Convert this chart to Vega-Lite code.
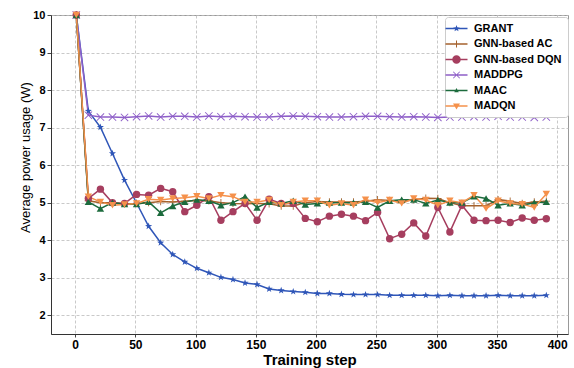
{
  "$schema": "https://vega.github.io/schema/vega-lite/v6.json",
  "width": 517,
  "height": 319,
  "autosize": {"type": "none"},
  "padding": {"left": 51, "top": 15, "right": 6, "bottom": 34},
  "background": "white",
  "config": {
    "font": "Liberation Sans",
    "view": {"stroke": "#999999", "strokeWidth": 1},
    "legend": {
      "title": null, "orient": "none", "legendX": 394, "legendY": 2,
      "labelFont": "Liberation Sans", "labelFontSize": 11, "labelFontWeight": "bold", "labelColor": "black",
      "symbolSize": 100, "labelOffset": 12, "padding": 6, "rowPadding": 3.5,
      "fillColor": "white", "strokeColor": "#cccccc", "cornerRadius": 3,
      "symbolStrokeWidth": 0, "symbolStrokeColor": "transparent", "symbolOpacity": 1
    }
  },
  "resolve": {
    "scale": {"shape": "independent"},
    "legend": {"color": "independent", "shape": "independent"}
  },
  "data": {
    "values": [
      {"step": 1, "GRANT": 10, "GNN-based AC": 10, "GNN-based DQN": 10, "MADDPG": 10, "MAAC": 10, "MADQN": 10},
      {"step": 11, "GRANT": 7.44, "GNN-based AC": 5.05, "GNN-based DQN": 5.11, "MADDPG": 7.33, "MAAC": 5.02, "MADQN": 5.16},
      {"step": 21, "GRANT": 7.01, "GNN-based AC": 5.0, "GNN-based DQN": 5.36, "MADDPG": 7.28, "MAAC": 4.84, "MADQN": 5.02},
      {"step": 31, "GRANT": 6.31, "GNN-based AC": 5.0, "GNN-based DQN": 5.0, "MADDPG": 7.28, "MAAC": 5.0, "MADQN": 4.93},
      {"step": 41, "GRANT": 5.6, "GNN-based AC": 4.97, "GNN-based DQN": 4.98, "MADDPG": 7.27, "MAAC": 4.96, "MADQN": 4.95},
      {"step": 51, "GRANT": 4.99, "GNN-based AC": 4.98, "GNN-based DQN": 5.22, "MADDPG": 7.29, "MAAC": 4.96, "MADQN": 4.98},
      {"step": 61, "GRANT": 4.37, "GNN-based AC": 5.0, "GNN-based DQN": 5.2, "MADDPG": 7.31, "MAAC": 5.02, "MADQN": 5.09},
      {"step": 71, "GRANT": 3.93, "GNN-based AC": 5.03, "GNN-based DQN": 5.38, "MADDPG": 7.28, "MAAC": 4.73, "MADQN": 5.07},
      {"step": 81, "GRANT": 3.62, "GNN-based AC": 5.02, "GNN-based DQN": 5.29, "MADDPG": 7.3, "MAAC": 4.91, "MADQN": 5.11},
      {"step": 91, "GRANT": 3.42, "GNN-based AC": 5.04, "GNN-based DQN": 4.76, "MADDPG": 7.3, "MAAC": 5.02, "MADQN": 5.13},
      {"step": 101, "GRANT": 3.25, "GNN-based AC": 5.06, "GNN-based DQN": 4.93, "MADDPG": 7.28, "MAAC": 5.08, "MADQN": 5.17},
      {"step": 111, "GRANT": 3.13, "GNN-based AC": 5.05, "GNN-based DQN": 5.16, "MADDPG": 7.31, "MAAC": 5.05, "MADQN": 5.11},
      {"step": 121, "GRANT": 3.01, "GNN-based AC": 5.0, "GNN-based DQN": 4.53, "MADDPG": 7.29, "MAAC": 4.93, "MADQN": 5.2},
      {"step": 131, "GRANT": 2.95, "GNN-based AC": 4.98, "GNN-based DQN": 4.76, "MADDPG": 7.3, "MAAC": 5.0, "MADQN": 5.16},
      {"step": 141, "GRANT": 2.86, "GNN-based AC": 4.97, "GNN-based DQN": 4.98, "MADDPG": 7.29, "MAAC": 5.16, "MADQN": 5.02},
      {"step": 151, "GRANT": 2.82, "GNN-based AC": 4.98, "GNN-based DQN": 4.53, "MADDPG": 7.28, "MAAC": 4.87, "MADQN": 5.02},
      {"step": 161, "GRANT": 2.7, "GNN-based AC": 4.97, "GNN-based DQN": 5.09, "MADDPG": 7.28, "MAAC": 5.02, "MADQN": 5.07},
      {"step": 171, "GRANT": 2.66, "GNN-based AC": 4.91, "GNN-based DQN": 4.98, "MADDPG": 7.3, "MAAC": 4.98, "MADQN": 4.93},
      {"step": 181, "GRANT": 2.63, "GNN-based AC": 4.91, "GNN-based DQN": 4.98, "MADDPG": 7.31, "MAAC": 5.05, "MADQN": 5.02},
      {"step": 191, "GRANT": 2.61, "GNN-based AC": 5.0, "GNN-based DQN": 4.58, "MADDPG": 7.3, "MAAC": 4.95, "MADQN": 5.05},
      {"step": 201, "GRANT": 2.58, "GNN-based AC": 5.03, "GNN-based DQN": 4.49, "MADDPG": 7.29, "MAAC": 4.98, "MADQN": 5.05},
      {"step": 211, "GRANT": 2.58, "GNN-based AC": 5.02, "GNN-based DQN": 4.64, "MADDPG": 7.28, "MAAC": 5.0, "MADQN": 4.93},
      {"step": 221, "GRANT": 2.56, "GNN-based AC": 5.02, "GNN-based DQN": 4.69, "MADDPG": 7.28, "MAAC": 5.0, "MADQN": 4.98},
      {"step": 231, "GRANT": 2.55, "GNN-based AC": 5.02, "GNN-based DQN": 4.64, "MADDPG": 7.29, "MAAC": 5.0, "MADQN": 4.93},
      {"step": 241, "GRANT": 2.55, "GNN-based AC": 5.04, "GNN-based DQN": 4.52, "MADDPG": 7.3, "MAAC": 5.02, "MADQN": 5.08},
      {"step": 251, "GRANT": 2.55, "GNN-based AC": 5.08, "GNN-based DQN": 4.74, "MADDPG": 7.3, "MAAC": 4.87, "MADQN": 5.0},
      {"step": 261, "GRANT": 2.53, "GNN-based AC": 5.06, "GNN-based DQN": 4.04, "MADDPG": 7.29, "MAAC": 5.05, "MADQN": 5.07},
      {"step": 271, "GRANT": 2.53, "GNN-based AC": 5.03, "GNN-based DQN": 4.16, "MADDPG": 7.28, "MAAC": 5.08, "MADQN": 4.98},
      {"step": 281, "GRANT": 2.53, "GNN-based AC": 5.08, "GNN-based DQN": 4.46, "MADDPG": 7.29, "MAAC": 5.08, "MADQN": 5.11},
      {"step": 291, "GRANT": 2.53, "GNN-based AC": 5.12, "GNN-based DQN": 4.11, "MADDPG": 7.28, "MAAC": 4.98, "MADQN": 5.07},
      {"step": 301, "GRANT": 2.52, "GNN-based AC": 5.11, "GNN-based DQN": 4.87, "MADDPG": 7.27, "MAAC": 5.07, "MADQN": 4.93},
      {"step": 311, "GRANT": 2.53, "GNN-based AC": 5.0, "GNN-based DQN": 4.22, "MADDPG": 7.28, "MAAC": 5.0, "MADQN": 5.05},
      {"step": 321, "GRANT": 2.52, "GNN-based AC": 4.92, "GNN-based DQN": 4.93, "MADDPG": 7.28, "MAAC": 5.0, "MADQN": 5.0},
      {"step": 331, "GRANT": 2.52, "GNN-based AC": 4.92, "GNN-based DQN": 4.53, "MADDPG": 7.29, "MAAC": 5.17, "MADQN": 5.2},
      {"step": 341, "GRANT": 2.52, "GNN-based AC": 4.92, "GNN-based DQN": 4.52, "MADDPG": 7.28, "MAAC": 5.11, "MADQN": 4.84},
      {"step": 351, "GRANT": 2.53, "GNN-based AC": 5.08, "GNN-based DQN": 4.53, "MADDPG": 7.3, "MAAC": 4.93, "MADQN": 5.05},
      {"step": 361, "GRANT": 2.52, "GNN-based AC": 5.04, "GNN-based DQN": 4.47, "MADDPG": 7.28, "MAAC": 4.98, "MADQN": 4.98},
      {"step": 371, "GRANT": 2.52, "GNN-based AC": 4.98, "GNN-based DQN": 4.59, "MADDPG": 7.28, "MAAC": 4.93, "MADQN": 4.96},
      {"step": 381, "GRANT": 2.52, "GNN-based AC": 5.02, "GNN-based DQN": 4.53, "MADDPG": 7.27, "MAAC": 5.0, "MADQN": 4.87},
      {"step": 391, "GRANT": 2.53, "GNN-based AC": 5.04, "GNN-based DQN": 4.57, "MADDPG": 7.28, "MAAC": 5.02, "MADQN": 5.23}
    ]
  },
  "encoding": {
    "x": {
      "field": "step", "type": "quantitative",
      "scale": {"domain": [-20, 409], "nice": false, "zero": false},
      "axis": {
        "values": [0, 50, 100, 150, 200, 250, 300, 350, 400],
        "title": "Training step",
        "titleFontSize": 15, "titleFontWeight": "bold", "titleColor": "black", "titlePadding": 2,
        "labelFontSize": 12, "labelFontWeight": "bold", "labelColor": "black", "labelPadding": 2,
        "tickSize": 3, "tickColor": "#444444",
        "domainColor": "#333333", "domainWidth": 1,
        "grid": true, "gridColor": "#bbbbbb", "gridDash": [3, 2], "gridWidth": 0.8
      }
    },
    "y": {
      "field": "value", "type": "quantitative",
      "scale": {"domain": [1.5, 10], "nice": false, "zero": false},
      "axis": {
        "values": [2, 3, 4, 5, 6, 7, 8, 9, 10],
        "title": "Average power usage (W)",
        "titleFontSize": 13, "titleFontWeight": "normal", "titleColor": "black",
        "titleX": -26, "titleY": 142, "titleBaseline": "middle",
        "labelFontSize": 11, "labelFontWeight": "bold", "labelColor": "black", "labelPadding": 2,
        "tickSize": 4, "tickColor": "#444444",
        "domainColor": "#333333", "domainWidth": 1,
        "grid": true, "gridColor": "#bbbbbb", "gridDash": [3, 2], "gridWidth": 0.8
      }
    }
  },
  "layer": [
    {
      "transform": [
        {"fold": ["GRANT", "GNN-based AC", "GNN-based DQN", "MADDPG", "MAAC", "MADQN"], "as": ["series", "value"]}
      ],
      "mark": {"type": "line", "strokeWidth": 1.5},
      "encoding": {
        "color": {
          "field": "series", "type": "nominal",
          "scale": {
            "domain": ["GRANT", "GNN-based AC", "GNN-based DQN", "MADDPG", "MAAC", "MADQN"],
            "range": ["#2f56b8", "#a5622e", "#a63e5f", "#8e5fc8", "#1c6b3d", "#f5914b"]
          },
          "legend": null
        }
      }
    },
    {
      "transform": [
        {"fold": ["GRANT", "GNN-based AC", "GNN-based DQN", "MADDPG", "MAAC", "MADQN"], "as": ["method", "value"]}
      ],
      "mark": {"type": "point", "filled": true, "opacity": 1},
      "encoding": {
        "color": {
          "field": "method", "type": "nominal",
          "scale": {
            "domain": ["GRANT", "GNN-based AC", "GNN-based DQN", "MADDPG", "MAAC", "MADQN"],
            "range": ["#2f56b8", "#a5622e", "#a63e5f", "#8e5fc8", "#1c6b3d", "#f5914b"]
          },
          "legend": null
        },
        "shape": {
          "field": "method", "type": "nominal",
          "scale": {
            "domain": ["MADQN", "MAAC", "MADDPG", "GNN-based DQN", "GNN-based AC", "GRANT"],
            "range": [
              "triangle-down",
              "triangle-up",
              "M-0.91,-1.09L1.09,0.91L0.91,1.09L-1.09,-0.91ZM0.91,-1.09L1.09,-0.91L-0.91,1.09L-1.09,0.91Z",
              "circle",
              "M-0.12,-1H0.12V-0.12H1V0.12H0.12V1H-0.12V0.12H-1V-0.12H-0.12Z",
              "M0,-1L0.235,-0.324L0.951,-0.309L0.38,0.124L0.588,0.809L0,0.4L-0.588,0.809L-0.38,0.124L-0.951,-0.309L-0.235,-0.324Z"
            ]
          },
          "legend": null
        },
        "size": {
          "field": "method", "type": "nominal",
          "scale": {
            "domain": ["GNN-based AC", "GRANT", "GNN-based DQN", "MADDPG", "MAAC", "MADQN"],
            "range": [55, 55, 80, 40, 16, 55]
          },
          "legend": null
        }
      }
    },
    {
      "transform": [
        {"fold": ["GRANT", "GNN-based AC", "GNN-based DQN", "MADDPG", "MAAC", "MADQN"], "as": ["name", "value"]},
        {"filter": "datum.value > 100"}
      ],
      "mark": {"type": "point", "filled": true, "opacity": 1},
      "encoding": {
        "color": {
          "field": "name", "type": "nominal",
          "scale": {
            "domain": ["GRANT", "GNN-based AC", "GNN-based DQN", "MADDPG", "MAAC", "MADQN"],
            "range": ["#2f56b8", "#a5622e", "#a63e5f", "#8e5fc8", "#1c6b3d", "#f5914b"]
          },
          "legend": {}
        },
        "shape": {
          "field": "name", "type": "nominal",
          "scale": {
            "domain": ["GRANT", "GNN-based AC", "GNN-based DQN", "MADDPG", "MAAC", "MADQN"],
            "range": [
              "M-2.2,-0.15H2.2V0.15H-2.2ZM0,-0.7L0.16,-0.23L0.67,-0.22L0.27,0.09L0.41,0.57L0,0.28L-0.41,0.57L-0.27,0.09L-0.67,-0.22L-0.16,-0.23Z",
              "M-2.2,-0.15H2.2V0.15H-2.2ZM-0.1,-0.7H0.1V0.7H-0.1Z",
              "M-2.2,-0.15H2.2V0.15H-2.2ZM0.85,0A0.85,0.85,0,1,1,-0.85,0A0.85,0.85,0,1,1,0.85,0Z",
              "M-2.2,-0.15H2.2V0.15H-2.2ZM-0.59,-0.71L0.71,0.59L0.59,0.71L-0.71,-0.59ZM0.59,-0.71L0.71,-0.59L-0.59,0.71L-0.71,0.59Z",
              "M-2.2,-0.15H2.2V0.15H-2.2ZM0,-0.5L0.45,0.35L-0.45,0.35Z",
              "M-2.2,-0.15H2.2V0.15H-2.2ZM-0.7,-0.5L0.7,-0.5L0,0.7Z"
            ]
          },
          "legend": {}
        }
      }
    }
  ]
}
